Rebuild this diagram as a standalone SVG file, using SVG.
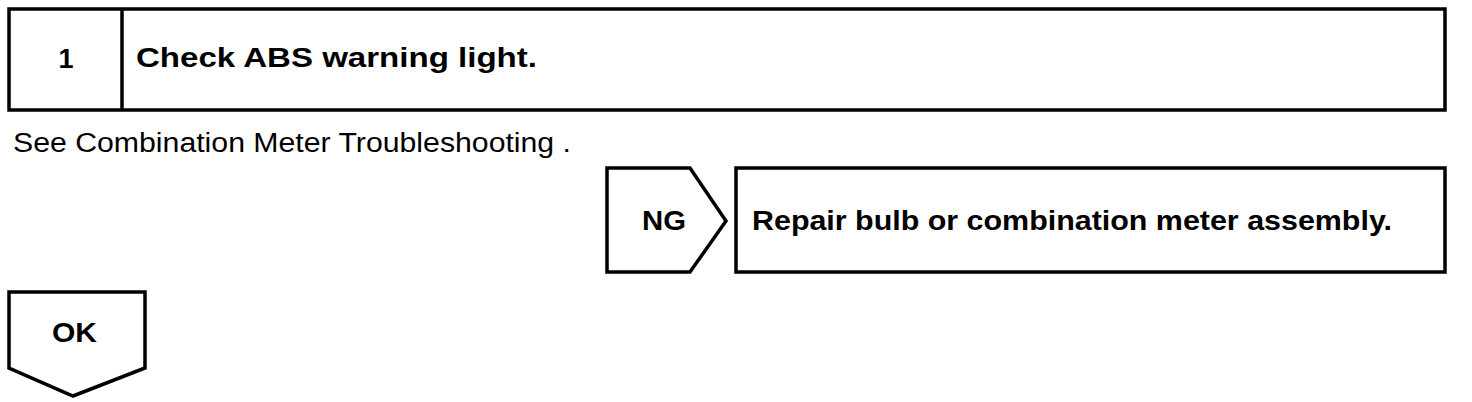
<svg xmlns="http://www.w3.org/2000/svg" width="1472" height="402" viewBox="0 0 1472 402">
<style>
.box{fill:#fff;stroke:#000;stroke-width:3.5}
.b{font-family:"Liberation Sans",Arial,sans-serif;font-weight:bold;font-size:27px;fill:#000}
.r{font-family:"Liberation Sans",Arial,sans-serif;font-size:27px;fill:#000}
</style>
<rect width="1472" height="402" fill="#fff"/>
<g id="step1">
<rect class="box" x="9" y="9" width="1436" height="101"/>
<line x1="122" y1="9" x2="122" y2="110" stroke="#000" stroke-width="3.5"/>
<text class="b" x="66" y="68" text-anchor="middle" font-size="28">1</text>
<text class="b" x="136" y="67" textLength="401" lengthAdjust="spacingAndGlyphs">Check ABS warning light.</text>
</g>
<g id="note">
<text class="r" x="13" y="152" textLength="558" lengthAdjust="spacingAndGlyphs">See Combination Meter Troubleshooting .</text>
</g>
<g id="ng">
<polygon class="box" points="607,168 690,168 726,221 690,272 607,272"/>
<text class="b" x="642" y="230" textLength="44" lengthAdjust="spacingAndGlyphs">NG</text>
</g>
<g id="repair">
<rect class="box" x="736" y="168" width="709" height="104"/>
<text class="b" x="752" y="230" textLength="640" lengthAdjust="spacingAndGlyphs">Repair bulb or combination meter assembly.</text>
</g>
<g id="ok">
<polygon class="box" points="9,292 145,292 145,368 73,396 9,368"/>
<text class="b" x="52" y="342" textLength="45" lengthAdjust="spacingAndGlyphs">OK</text>
</g>
<g id="connectors"></g>
</svg>
